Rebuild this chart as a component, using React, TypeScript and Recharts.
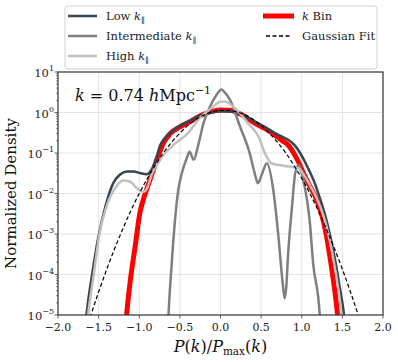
import React from 'react';
import { LineChart, Line, XAxis, YAxis, CartesianGrid } from 'recharts';

// values (x = P(k)/Pmax(k), y = normalized density)
const lowX = [-1.7, -1.65, -1.58, -1.5, -1.42, -1.32, -1.24, -1.15, -1.07, -0.99, -0.91, -0.85, -0.8, -0.74, -0.66, -0.58, -0.5, -0.38, -0.25, -0.12, 0.04, 0.15, 0.28, 0.42, 0.55, 0.67, 0.78, 0.85, 0.92, 0.98, 1.06, 1.16, 1.22, 1.29, 1.35, 1.41, 1.47, 1.52, 1.56];
const lowY = [6e-7, 1e-5, 1e-4, 9e-4, 4.5e-3, 1.8e-2, 2.9e-2, 3.5e-2, 3.5e-2, 3.2e-2, 3e-2, 3.8e-2, 6.5e-2, 0.16, 0.26, 0.37, 0.47, 0.62, 0.85, 1.0, 1.07, 1.04, 0.85, 0.6, 0.43, 0.31, 0.24, 0.2, 0.15, 0.1, 5e-2, 1.8e-2, 8e-3, 2.8e-3, 9e-4, 2.3e-4, 4.5e-5, 1e-5, 1e-6];

const midX = [-0.66, -0.64, -0.6, -0.56, -0.52, -0.47, -0.42, -0.38, -0.33, -0.27, -0.21, -0.13, -0.05, 0.01, 0.06, 0.12, 0.24, 0.36, 0.42, 0.46, 0.51, 0.57, 0.65, 0.71, 0.77, 0.79, 0.81, 0.83, 0.88, 0.92, 0.96, 1.02, 1.1, 1.14, 1.22, 1.24];
const midY = [1e-6, 1e-5, 1.9e-4, 2.2e-3, 1.2e-2, 3.5e-2, 7e-2, 0.107, 0.068, 0.17, 0.54, 1.38, 2.7, 3.7, 3.0, 2.0, 0.45, 9.8e-2, 3.2e-2, 1.8e-2, 3e-2, 5.6e-2, 1.2e-2, 1e-3, 5e-5, 2.6e-5, 5e-5, 2.7e-4, 4.7e-3, 3.2e-2, 5e-2, 2.1e-2, 1.9e-3, 1.9e-4, 1.1e-5, 1e-6];

const highX = [-1.68, -1.63, -1.56, -1.49, -1.4, -1.28, -1.2, -1.11, -1.03, -0.95, -0.9, -0.84, -0.76, -0.68, -0.56, -0.4, -0.25, -0.11, 0.0, 0.06, 0.18, 0.34, 0.47, 0.55, 0.63, 0.79, 0.96, 1.04, 1.1, 1.18, 1.29, 1.4, 1.49, 1.53];
const highY = [1e-6, 1e-5, 1e-4, 1e-3, 5e-3, 1.5e-2, 2.1e-2, 1.95e-2, 1.35e-2, 1.1e-2, 1.4e-2, 3.2e-2, 6e-2, 0.1, 0.17, 0.31, 0.75, 1.3, 1.85, 1.85, 1.26, 0.54, 0.25, 9.5e-2, 5.5e-2, 4.8e-2, 4.2e-2, 2.6e-2, 1.6e-2, 8e-3, 2e-3, 1.8e-4, 1e-5, 1e-6];

const binX = [-1.19, -1.15, -1.11, -1.05, -0.99, -0.95, -0.87, -0.77, -0.7, -0.62, -0.5, -0.4, -0.25, -0.12, 0.0, 0.12, 0.25, 0.42, 0.55, 0.67, 0.76, 0.83, 0.9, 0.96, 1.02, 1.08, 1.16, 1.25, 1.3, 1.35, 1.4, 1.44, 1.47];
const binY = [1e-6, 1.3e-5, 7e-5, 5e-4, 3.5e-3, 7e-3, 2.1e-2, 8e-2, 0.18, 0.3, 0.44, 0.56, 0.83, 1.05, 1.15, 1.13, 0.9, 0.55, 0.4, 0.28, 0.2, 0.16, 0.1, 6e-2, 3.2e-2, 1.8e-2, 9e-3, 2.8e-3, 1e-3, 2.5e-4, 5e-5, 1e-5, 1e-6];

const fitX = [-1.7, -1.6, -1.5, -1.4, -1.3, -1.2, -1.1, -1.0, -0.9, -0.8, -0.7, -0.6, -0.5, -0.4, -0.3, -0.2, -0.1, 0.0, 0.1, 0.2, 0.3, 0.4, 0.5, 0.6, 0.7, 0.8, 0.9, 1.0, 1.1, 1.2, 1.3, 1.4, 1.5, 1.6, 1.7, 1.8];
const fitY = [2.1e-6, 9.3e-6, 3.7e-5, 1.35e-4, 4.5e-4, 1.37e-3, 3.9e-3, 1.0e-2, 2.35e-2, 5.1e-2, 0.102, 0.186, 0.31, 0.48, 0.68, 0.88, 1.04, 1.13, 1.13, 1.04, 0.88, 0.68, 0.48, 0.31, 0.186, 0.102, 5.1e-2, 2.35e-2, 1.0e-2, 3.9e-3, 1.37e-3, 4.5e-4, 1.35e-4, 3.7e-5, 9.3e-6, 2.1e-6];

const xTicks = [-2, -1.5, -1, -0.5, 0, 0.5, 1, 1.5, 2];
const decades = [1e-5, 1e-4, 1e-3, 1e-2, 1e-1, 1, 10];
const exponents = ['−5', '−4', '−3', '−2', '−1', '0', '1'];

const zip = (xs: number[], ys: number[]) => xs.map((x, i) => ({ x, y: ys[i] }));

const lowData = zip(lowX, lowY);
const midData = zip(midX, midY);
const highData = zip(highX, highY);
const binData = zip(binX, binY);
const fitData = zip(fitX, fitY);

// minor ticks for the log axis
const yTicks: number[] = [];
decades.forEach((d, i) => {
  yTicks.push(d);
  if (i < decades.length - 1) for (let m = 2; m <= 9; m++) yTicks.push(d * m);
});

const W = 398;
const H = 362;
const L = 58;
const R = 383;
const T = 72;
const B = 315;
const FONT = "'DejaVu Serif', 'Liberation Serif', serif";
const serif = { fontFamily: FONT };
const AX = '#3a3a3a';

const C_LOW = '#36454f';
const C_MID = '#7f7f7f';
const C_HIGH = '#c0c0c0';
const C_BIN = '#ff0000';

const YTick = (props: any) => {
  const { y, payload } = props;
  const idx = decades.findIndex((d) => Math.abs(d - payload.value) / d < 1e-6);
  if (idx < 0) {
    return <line x1={L} x2={L - 2} y1={y} y2={y} stroke={AX} strokeWidth={0.6} />;
  }
  return (
    <g>
      <line x1={L} x2={L - 3.5} y1={y} y2={y} stroke={AX} strokeWidth={0.8} />
      <text x={54} y={y + 5} textAnchor="end" style={serif} fontSize={11.5} fill="#222">
        <tspan>10</tspan>
        <tspan dy={-6} fontSize={8}>{exponents[idx]}</tspan>
      </text>
    </g>
  );
};

const XTick = (props: any) => {
  const { x, payload } = props;
  const label = payload.value.toFixed(1).replace('-', '−');
  return (
    <g>
      <line x1={x} x2={x} y1={B} y2={B + 3.5} stroke={AX} strokeWidth={0.8} />
      <text x={x} y={B + 16} textAnchor="middle" style={serif} fontSize={11} fill="#222">
        {label}
      </text>
    </g>
  );
};

const Legend = () => (
  <g style={serif} fontSize={11.5} fill="#222">
    <rect x={65} y={6} width={312} height={63} rx={3} fill="#fff" fillOpacity={0.85} stroke="#d0d0d0" />
    <line x1={68} x2={97} y1={16} y2={16} stroke={C_LOW} strokeWidth={2.5} />
    <text x={106} y={20}>
      Low <tspan fontStyle="italic">k</tspan><tspan fontSize={8} dy={3}>∥</tspan>
    </text>
    <line x1={68} x2={97} y1={36} y2={36} stroke={C_MID} strokeWidth={2.5} />
    <text x={106} y={40}>
      Intermediate <tspan fontStyle="italic">k</tspan><tspan fontSize={8} dy={3}>∥</tspan>
    </text>
    <line x1={68} x2={97} y1={56} y2={56} stroke={C_HIGH} strokeWidth={2.5} />
    <text x={106} y={60}>
      High <tspan fontStyle="italic">k</tspan><tspan fontSize={8} dy={3}>∥</tspan>
    </text>
    <line x1={263} x2={294} y1={16} y2={16} stroke={C_BIN} strokeWidth={5} />
    <text x={302} y={20}>
      <tspan fontStyle="italic">k</tspan> Bin
    </text>
    <line x1={266} x2={292} y1={36} y2={36} stroke="#000" strokeWidth={1.3} strokeDasharray="4 2.5" />
    <text x={302} y={40}>Gaussian Fit</text>
  </g>
);

export default function App() {
  return (
    <div style={{ position: 'absolute', left: 0, top: 0, width: W, height: H, background: '#fff' }}>
      <LineChart width={W} height={H} margin={{ top: T, right: W - R, bottom: 0, left: 0 }}>
        <CartesianGrid
          stroke="#e3e3e3"
          strokeWidth={1}
          horizontalValues={decades}
          verticalValues={xTicks}
        />
        <XAxis
          type="number"
          dataKey="x"
          domain={[-2, 2]}
          ticks={xTicks}
          interval={0}
          height={H - B}
          axisLine={false}
          tickLine={false}
          tick={<XTick />}
          allowDataOverflow
        />
        <YAxis
          type="number"
          scale="log"
          domain={[1e-5, 10]}
          ticks={yTicks}
          interval={0}
          width={L}
          axisLine={false}
          tickLine={false}
          tick={<YTick />}
          allowDataOverflow
        />
        <Line data={binData} dataKey="y" type="monotone" stroke={C_BIN} strokeWidth={5} dot={false} isAnimationActive={false} />
        <Line data={lowData} dataKey="y" type="monotone" stroke={C_LOW} strokeWidth={2.5} dot={false} isAnimationActive={false} />
        <Line data={midData} dataKey="y" type="monotone" stroke={C_MID} strokeWidth={2.5} dot={false} isAnimationActive={false} />
        <Line data={highData} dataKey="y" type="monotone" stroke={C_HIGH} strokeWidth={2.5} dot={false} isAnimationActive={false} />
        <Line data={fitData} dataKey="y" type="monotone" stroke="#000" strokeWidth={1.2} strokeDasharray="4 2.5" dot={false} isAnimationActive={false} />
      </LineChart>
      <svg width={W} height={H} style={{ position: 'absolute', left: 0, top: 0, pointerEvents: 'none' }}>
        <rect x={L} y={T} width={R - L} height={B - T} fill="none" stroke={AX} strokeWidth={1.2} />
        <Legend />
        <text x={75} y={101} style={serif} fontSize={16} fill="#111">
          <tspan fontStyle="italic">k</tspan> = 0.74 <tspan fontStyle="italic">h</tspan>Mpc
          <tspan dy={-7} fontSize={11}>−1</tspan>
        </text>
        <text x={(L + R) / 2} y={352} textAnchor="middle" style={serif} fontSize={16} fill="#111">
          <tspan fontStyle="italic">P</tspan>(<tspan fontStyle="italic">k</tspan>)/<tspan fontStyle="italic">P</tspan>
          <tspan fontSize={10.5} dy={3}>max</tspan>
          <tspan dy={-3}>(</tspan><tspan fontStyle="italic">k</tspan>)
        </text>
        <text
          x={16}
          y={(T + B) / 2}
          textAnchor="middle"
          style={serif}
          fontSize={15}
          fill="#111"
          transform={`rotate(-90 16 ${(T + B) / 2})`}
        >
          Normalized Density
        </text>
      </svg>
    </div>
  );
}
